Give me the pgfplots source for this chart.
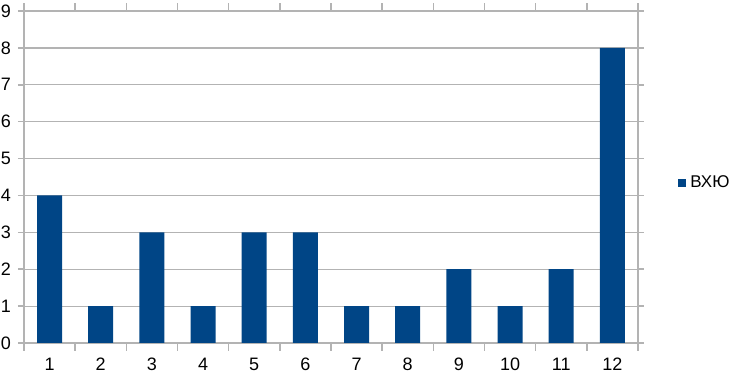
\documentclass[border=0pt]{standalone}
\usepackage{fontspec}
\setmainfont{Liberation Sans}
\usepackage{pgfplots}
\pgfplotsset{compat=1.18}
\definecolor{barblue}{HTML}{004586}
\definecolor{gridgray}{HTML}{B3B3B3}
\begin{document}
\begin{tikzpicture}
\useasboundingbox (-12pt,-16pt) rectangle (353pt,171.5pt);
\begin{axis}[
  at={(0,0)}, anchor=south west,
  scale only axis,
  width=307pt, height=166pt,
  xmin=0.5, xmax=12.5,
  ymin=0, ymax=9,
  ytick={0,...,9},
  xtick={1,...,12},
  minor xtick={0.5,1.5,...,12.5},
  major x tick style={draw=none},
  minor x tick style={draw=gridgray, line width=0.8pt},
  minor tick length=4pt,
  major tick length=3pt,
  tick align=outside,
  y tick style={draw=gridgray, line width=0.8pt},
  ymajorgrids,
  grid style={gridgray, line width=0.6pt},
  axis line style={gridgray, line width=0.8pt},
  tick label style={font=\fontsize{9pt}{10pt}\selectfont, black},
  /pgf/number format/assume math mode=true,
  xticklabel style={yshift=-1pt},
  legend style={at={(1.065,0.482)}, anchor=west, draw=none, fill=none,
    font=\fontsize{8.5pt}{10pt}\selectfont, inner sep=0pt},
  legend image code/.code={\fill[barblue] (0pt,-2pt) rectangle (4pt,2pt);},
]
\addplot[ybar, bar width=12.5pt, fill=barblue, draw=none] coordinates {
(1,4) (2,1) (3,3) (4,1) (5,3) (6,3) (7,1) (8,1) (9,2) (10,1) (11,2) (12,8)
};
\addlegendentry{ВХЮ}
\end{axis}
\end{tikzpicture}
\end{document}
